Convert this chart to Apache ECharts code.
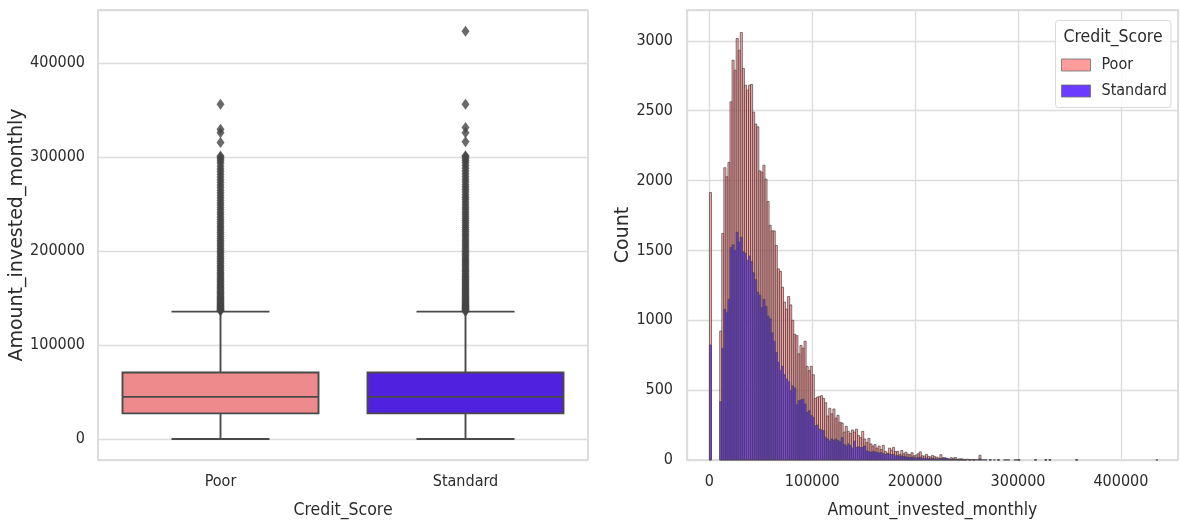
<!DOCTYPE html>
<html><head><meta charset="utf-8">
<script src="https://cdn.jsdelivr.net/npm/echarts@6/dist/echarts.min.js"></script>
<style>html,body{margin:0;padding:0;background:#fff}#c{width:1180px;height:524px}</style>
</head><body><div id="c"></div>
<script>
// ---------- data ----------
const categories = ['Poor', 'Standard'];
const whiskerLow = [0, 0];
const q1 = [27300, 27300];
const median = [44900, 44900];
const q3 = [70800, 70800];
const whiskerHigh = [135600, 135600];

const poorOutliers = [136500,137200,138100,138900,139800,140700,141600,142600,143700,144800,145900,147100,148300,149500,
  150700,152000,153300,154600,155900,157300,158700,160100,161500,163000,164500,166000,167600,169200,170800,172500,
  174200,175900,177600,179400,181200,183000,184800,186700,188600,190500,192400,194400,196400,198400,200400,202500,
  204600,206700,208800,211000,213200,215400,217600,219900,222200,224500,226800,229200,231600,234000,236400,238900,
  241400,243900,246400,249000,251600,254200,256800,259500,262200,264900,267600,270400,273200,276000,278800,281700,
  284600,287500,290400,293400,295800,298000,300000,301200,315700,326000,329800,356300];
const standardOutliers = [136000,136900,137700,138600,139500,140400,141300,142300,143400,144500,145700,146900,148100,149400,
  150600,151900,153300,154700,156100,157500,158900,160400,161900,163400,164900,166500,168100,169700,171300,173000,
  174700,176400,178200,180000,181800,183600,185400,187300,189200,191100,193000,195000,197000,199000,201000,203100,
  205200,207300,209400,211600,213800,216000,218200,220500,222800,225100,227400,229800,232200,234600,237000,239500,
  242000,244500,247000,249600,252200,254800,257400,260100,262800,265500,268200,271000,273800,276600,279400,282300,
  285200,288100,291000,294000,296500,298500,300300,301500,316300,326000,331600,356300,434000];

const binStart = 0;
const binWidth = 2000;
const poorCounts = [
  1915,0,0,0,0,923,1622,2092,2027,2130,
  2564,2862,2790,3017,2933,3060,2802,2683,2647,2683,
  2688,2490,2405,2385,2070,2060,2110,2010,1850,1680,
  1640,1640,1535,1368,1350,1237,1130,1080,1170,1110,
  1000,900,890,760,820,800,850,670,640,670,
  610,440,450,455,460,440,410,315,370,330,
  365,300,320,270,265,200,240,205,190,215,
  200,220,175,160,205,150,125,155,115,100,
  110,85,100,75,105,62,50,85,70,90,
  60,62,40,68,45,55,42,38,52,30,
  35,45,58,30,28,40,26,22,33,24,
  20,14,38,16,10,12,8,16,12,18,
  6,8,9,5,4,6,3,4,2,3,
  2,34,2,0,1,0,2,0,1,0,
  1,0,0,1,0,1,0,0,1,0,
  1,0,0,0,0,0,0,0,1,0,
  0,0,0,1,0,2,0,0,0,0,
  0,0,0,0,0,0,0,0,1,0,
  0,0,0,0,0,0,0,0,0,0,
  0,0,0,0,0,0,0,0,0,0,
  0,0,0,0,0,0,0,0,0,0,
  0,0,0,0,0,0,0,0];
const standardCounts = [
  823,0,0,0,0,417,799,1078,1054,1150,
  1520,1540,1500,1630,1560,1595,1490,1480,1430,1460,
  1420,1340,1290,1200,1180,1090,1150,1100,1030,1010,
  910,850,770,700,640,670,610,580,560,495,
  530,515,395,425,430,435,400,340,352,317,
  305,245,250,221,215,210,162,150,135,150,
  140,150,140,130,160,110,100,115,105,85,
  135,90,95,88,90,100,65,60,55,62,
  58,55,50,52,45,40,44,42,38,40,
  30,32,28,30,25,22,20,18,21,16,
  14,17,19,12,12,14,10,9,12,8,
  7,6,10,14,16,8,3,4,3,5,
  2,1,2,1,1,0,1,0,1,0,
  0,8,0,1,0,0,1,0,0,0,
  1,0,0,0,1,0,0,0,0,1,
  1,0,0,0,0,0,0,0,1,0,
  0,0,0,1,0,1,0,0,0,0,
  0,0,0,0,0,0,0,0,1,0,
  0,0,0,0,0,0,0,0,0,0,
  0,0,0,0,0,0,0,0,0,0,
  0,0,0,0,0,0,0,0,0,0,
  0,0,0,0,0,0,0,1];

// ---------- styles ----------
const FONT = '"DejaVu Sans Condensed","Liberation Sans Narrow","DejaVu Sans",sans-serif';
const FONT_ROT = '"DejaVu Sans",sans-serif';
const TXT = '#2b2b2b';
const GRIDC = '#dcdcdc';
const EDGE = '#4a4a4a';
const BOXCOLORS = ['#EE8A8C', '#5121E0'];
const HIST_FILL = ['rgba(255,110,110,0.62)', 'rgba(85,35,255,0.74)'];
const HIST_STROKE = 'rgba(75,70,70,0.72)';

function histData(counts) {
  const out = [];
  counts.forEach((c, i) => { if (c > 0) out.push([binStart + i * binWidth, binStart + (i + 1) * binWidth, c]); });
  return out;
}
function barRenderer(fill) {
  return function (params, api) {
    const p0 = api.coord([api.value(0), api.value(2)]);
    const p1 = api.coord([api.value(1), 0]);
    return { type: 'rect',
      shape: { x: p0[0], y: p0[1], width: p1[0] - p0[0], height: p1[1] - p0[1] },
      style: { fill: fill, stroke: HIST_STROKE, lineWidth: 1.0 } };
  };
}
function renderBox(params, api) {
  const i = api.value(0);
  const band = api.size([1, 0])[0];
  const cx = api.coord([i, 0])[0];
  const half = band * 0.4, cap = band * 0.2;
  const y = v => api.coord([i, v])[1];
  const yl = y(api.value(1)), y1 = y(api.value(2)), ym = y(api.value(3)), y3 = y(api.value(4)), yh = y(api.value(5));
  const ls = { stroke: EDGE, lineWidth: 1.9 };
  return { type: 'group', children: [
    { type: 'line', shape: { x1: cx, y1: y3, x2: cx, y2: yh }, style: ls },
    { type: 'line', shape: { x1: cx, y1: y1, x2: cx, y2: yl }, style: ls },
    { type: 'line', shape: { x1: cx - cap, y1: yh, x2: cx + cap, y2: yh }, style: ls },
    { type: 'line', shape: { x1: cx - cap, y1: yl, x2: cx + cap, y2: yl }, style: ls },
    { type: 'rect', shape: { x: cx - half, y: y3, width: 2 * half, height: y1 - y3 },
      style: { fill: BOXCOLORS[i], stroke: EDGE, lineWidth: 1.9 } },
    { type: 'line', shape: { x1: cx - half, y1: ym, x2: cx + half, y2: ym }, style: ls }
  ] };
}

const plainNum = v => String(v);
const labelStyle = { color: TXT, fontFamily: FONT, fontSize: 16 };
const splitLine = { show: true, lineStyle: { color: GRIDC, width: 1.3 } };

const option = {
  animation: false,
  backgroundColor: '#fff',
  grid: [
    { left: 98, right: 592, top: 10, bottom: 63, show: true, borderColor: '#d4d4d4', borderWidth: 1.5, containLabel: false },
    { left: 687, right: 2, top: 10, bottom: 63, show: true, borderColor: '#d4d4d4', borderWidth: 1.5, containLabel: false }
  ],
  xAxis: [
    { type: 'category', gridIndex: 0, data: categories, boundaryGap: true,
      axisLine: { show: false }, axisTick: { show: false }, splitLine: { show: false },
      axisLabel: Object.assign({ margin: 14 }, labelStyle),
      name: 'Credit_Score', nameLocation: 'middle', nameGap: 41,
      nameTextStyle: { color: TXT, fontFamily: FONT, fontSize: 17.5 } },
    { type: 'value', gridIndex: 1, min: -21800, max: 455500, minInterval: 100000, maxInterval: 100000,
      axisLine: { show: false }, axisTick: { show: false }, splitLine: splitLine,
      axisLabel: Object.assign({ margin: 14, showMinLabel: false, showMaxLabel: false, formatter: plainNum }, labelStyle),
      name: 'Amount_invested_monthly', nameLocation: 'middle', nameGap: 41,
      nameTextStyle: { color: TXT, fontFamily: FONT, fontSize: 17.5 } }
  ],
  yAxis: [
    { type: 'value', gridIndex: 0, min: -22300, max: 456600, minInterval: 100000, maxInterval: 100000,
      axisLine: { show: false }, axisTick: { show: false }, splitLine: splitLine,
      axisLabel: Object.assign({ margin: 13, showMinLabel: false, showMaxLabel: false, formatter: plainNum }, labelStyle),
      name: 'Amount_invested_monthly', nameLocation: 'middle', nameGap: 71, nameRotate: 90,
      nameTextStyle: { color: TXT, fontFamily: FONT_ROT, fontSize: 19 } },
    { type: 'value', gridIndex: 1, min: 0, max: 3221, interval: 500,
      axisLine: { show: false }, axisTick: { show: false }, splitLine: splitLine,
      axisLabel: Object.assign({ margin: 14, showMaxLabel: false, formatter: plainNum }, labelStyle),
      name: 'Count', nameLocation: 'middle', nameGap: 50, nameRotate: 90,
      nameTextStyle: { color: TXT, fontFamily: FONT_ROT, fontSize: 19 } }
  ],
  legend: {
    left: 1061, top: 57, orient: 'vertical', padding: 0, itemGap: 10,
    itemWidth: 29, itemHeight: 12, z: 10,
    textStyle: { color: TXT, fontFamily: FONT, fontSize: 16, lineHeight: 16, padding: [0, 0, 0, 6] },
    data: [
      { name: 'Poor', icon: 'rect', itemStyle: { color: '#ff9c9c', borderColor: 'rgba(110,110,110,0.8)', borderWidth: 1 } },
      { name: 'Standard', icon: 'rect', itemStyle: { color: '#6b3cff', borderColor: 'rgba(110,110,110,0.8)', borderWidth: 1 } }
    ]
  },
  graphic: [
    { type: 'rect', z: 8, shape: { x: 1055.5, y: 20.5, width: 115.5, height: 87, r: 3 },
      style: { fill: 'rgba(255,255,255,0.85)', stroke: '#d9d9d9', lineWidth: 1 } },
    { type: 'text', z: 12, style: { x: 1113, y: 37, text: 'Credit_Score', align: 'center', verticalAlign: 'middle',
      font: '17.5px ' + FONT, fill: TXT } }
  ],
  series: [
    { name: 'box', type: 'custom', xAxisIndex: 0, yAxisIndex: 0, renderItem: renderBox,
      encode: { x: 0, y: [1, 2, 3, 4, 5] }, z: 2,
      data: categories.map((c, i) => [i, whiskerLow[i], q1[i], median[i], q3[i], whiskerHigh[i]]) },
    { name: 'outliers', type: 'scatter', xAxisIndex: 0, yAxisIndex: 0, symbol: 'diamond', symbolSize: [8, 11],
      itemStyle: { color: '#454545' }, z: 3,
      data: poorOutliers.map(v => [0, v]).concat(standardOutliers.map(v => [1, v])) },
    { name: 'Poor', type: 'custom', xAxisIndex: 1, yAxisIndex: 1, renderItem: barRenderer(HIST_FILL[0]),
      encode: { x: [0, 1], y: 2 }, z: 2, data: histData(poorCounts) },
    { name: 'Standard', type: 'custom', xAxisIndex: 1, yAxisIndex: 1, renderItem: barRenderer(HIST_FILL[1]),
      encode: { x: [0, 1], y: 2 }, z: 3, data: histData(standardCounts) }
  ]
};
const chart = echarts.init(document.getElementById('c'), null, { renderer: 'canvas' });
chart.setOption(option);
</script>
</body></html>
